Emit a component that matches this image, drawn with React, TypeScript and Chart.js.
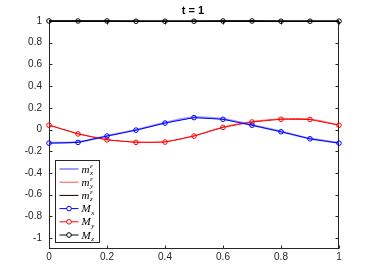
import React, { useEffect, useRef } from 'react';
import { Chart, registerables } from 'chart.js';
Chart.register(...registerables);

const xs = [0, 0.1, 0.2, 0.3, 0.4, 0.5, 0.6, 0.7, 0.8, 0.9, 1];
const Mx = [-0.125, -0.118, -0.06, -0.005, 0.06, 0.11, 0.095, 0.04, -0.02, -0.085, -0.125];
const My = [0.04, -0.04, -0.095, -0.118, -0.115, -0.06, 0.02, 0.07, 0.095, 0.093, 0.04];
const Mz = [1, 1, 1, 0.998, 0.998, 0.998, 1, 1, 0.998, 0.998, 0.998];
const mxEps = [-0.122, -0.115, -0.058, -0.003, 0.062, 0.113, 0.097, 0.042, -0.018, -0.083, -0.122];
const myEps = [0.043, -0.037, -0.092, -0.115, -0.112, -0.057, 0.023, 0.073, 0.098, 0.096, 0.043];
const mzEps = [1, 1, 1, 1, 1, 1, 1, 1, 1, 1, 1];
const xTicks = [0, 0.2, 0.4, 0.6, 0.8, 1];
const yTicks = [-1, -0.8, -0.6, -0.4, -0.2, 0, 0.2, 0.4, 0.6, 0.8, 1];
const titleText = 't = 1';
const legendItems = [
  { base: 'm', sup: 'ε', sub: 'x', color: 'rgba(90,90,255,0.6)', width: 2, marker: false },
  { base: 'm', sup: 'ε', sub: 'y', color: '#ff5050', width: 1, marker: false },
  { base: 'm', sup: 'ε', sub: 'z', color: '#000000', width: 1, marker: false },
  { base: 'M', sup: '', sub: 'x', color: '#0000ff', width: 1, marker: true },
  { base: 'M', sup: '', sub: 'y', color: '#ff0000', width: 1, marker: true },
  { base: 'M', sup: '', sub: 'z', color: '#000000', width: 1, marker: true },
];

const AX = '#262626';
const FONT = "'Liberation Sans', Arial, Helvetica, sans-serif";

const framePlugin = {
  id: 'frame',
  beforeDatasetsDraw(chart: any) {
    const { ctx, chartArea: a, scales } = chart;
    ctx.save();
    ctx.strokeStyle = AX;
    ctx.lineWidth = 1;
    const L = Math.round(a.left) + 0.5, R = Math.round(a.right) - 0.5;
    const T = Math.round(a.top) + 0.5, B = Math.round(a.bottom) - 0.5;
    ctx.strokeRect(L, T, R - L, B - T);
    ctx.beginPath();
    const tl = 3;
    for (const v of yTicks) {
      const y = Math.round(scales.y.getPixelForValue(v)) + 0.5;
      ctx.moveTo(L, y); ctx.lineTo(L + tl, y);
      ctx.moveTo(R, y); ctx.lineTo(R - tl, y);
    }
    for (const v of xTicks) {
      const x = Math.round(scales.x.getPixelForValue(v)) + 0.5;
      ctx.moveTo(x, B); ctx.lineTo(x, B - tl);
      ctx.moveTo(x, T); ctx.lineTo(x, T + tl);
    }
    ctx.stroke();
    ctx.restore();
  },
  afterDraw(chart: any) {
    const { ctx, chartArea: a } = chart;
    ctx.save();
    // title
    ctx.fillStyle = '#000';
    ctx.font = `bold 11px ${FONT}`;
    ctx.textAlign = 'center';
    ctx.textBaseline = 'alphabetic';
    ctx.fillText(titleText, (a.left + a.right) / 2 - 1, 13.5);
    // legend
    const bx = a.left + 6.5, by = a.bottom - 88.5, bw = 44, bh = 82;
    ctx.fillStyle = '#fff';
    ctx.fillRect(bx, by, bw, bh);
    ctx.strokeStyle = AX;
    ctx.lineWidth = 1;
    ctx.strokeRect(bx, by, bw, bh);
    const rowH = 13.2;
    legendItems.forEach((it, i) => {
      const cy = by + 8.5 + i * rowH;
      ctx.strokeStyle = it.color;
      ctx.lineWidth = it.width;
      ctx.beginPath();
      ctx.moveTo(bx + 4, cy);
      ctx.lineTo(bx + 23, cy);
      ctx.stroke();
      if (it.marker) {
        ctx.lineWidth = 1;
        ctx.fillStyle = '#fff';
        ctx.beginPath();
        ctx.arc(bx + 13.5, cy, 2.3, 0, Math.PI * 2);
        ctx.fill();
        ctx.stroke();
      }
      ctx.fillStyle = '#000';
      ctx.textAlign = 'left';
      ctx.textBaseline = 'alphabetic';
      ctx.font = `italic 11px 'Liberation Serif', 'DejaVu Serif', serif`;
      const tx = bx + 26;
      ctx.fillText(it.base, tx, cy + 3.5);
      const w = ctx.measureText(it.base).width;
      ctx.font = `italic 7px 'Liberation Serif', 'DejaVu Serif', serif`;
      if (it.sup) ctx.fillText(it.sup, tx + w + 0.5, cy - 1.5);
      ctx.fillText(it.sub, tx + w + 0.5, cy + 6);
    });
    ctx.restore();
  },
};

export default function App() {
  const ref = useRef<HTMLCanvasElement>(null);
  useEffect(() => {
    if (!ref.current) return;
    Chart.defaults.font.family = FONT;
    const mk = (data: number[]) => xs.map((x, i) => ({ x, y: data[i] }));
    const chart = new Chart(ref.current, {
      type: 'line',
      data: {
        datasets: [
          { label: 'mx', data: mk(mxEps), borderColor: 'rgba(90,90,255,0.6)', borderWidth: 2, pointRadius: 0, tension: 0.35, order: 2, clip: false },
          { label: 'my', data: mk(myEps), borderColor: '#ff5050', borderWidth: 1, pointRadius: 0, tension: 0.35, order: 2, clip: false },
          { label: 'mz', data: mk(mzEps), borderColor: '#000', borderWidth: 1, pointRadius: 0, tension: 0, order: 2, clip: false },
          { label: 'Mx', data: mk(Mx), borderColor: '#0000ff', backgroundColor: 'rgba(0,0,0,0)', borderWidth: 1, pointRadius: 2.3, pointBorderWidth: 1, pointBorderColor: '#0000ff', pointBackgroundColor: 'rgba(0,0,0,0)', order: 1, clip: false },
          { label: 'My', data: mk(My), borderColor: '#ff0000', backgroundColor: 'rgba(0,0,0,0)', borderWidth: 1, pointRadius: 2.3, pointBorderWidth: 1, pointBorderColor: '#ff0000', pointBackgroundColor: 'rgba(0,0,0,0)', order: 1, clip: false },
          { label: 'Mz', data: mk(Mz), borderColor: '#000', backgroundColor: 'rgba(0,0,0,0)', borderWidth: 1.5, pointRadius: 2.3, pointBorderWidth: 1, pointBorderColor: '#000', pointBackgroundColor: 'rgba(0,0,0,0)', order: 1, clip: false },
        ] as any,
      },
      options: {
        responsive: false,
        animation: false,
        layout: { padding: { left: 0, right: 35, top: 21, bottom: 0 } },
        plugins: { legend: { display: false }, tooltip: { enabled: false }, title: { display: false } },
        scales: {
          x: {
            type: 'linear', min: 0, max: 1,
            grid: { display: false, drawTicks: false },
            border: { display: false },
            afterBuildTicks: (s: any) => { s.ticks = xTicks.map((v) => ({ value: v })); },
            afterFit: (s: any) => { s.height = 31; },
            ticks: { color: AX, font: { size: 10 }, padding: 2, maxRotation: 0, callback: (v: any) => String(Math.round(v * 10) / 10) },
          },
          y: {
            type: 'linear', min: -1.1, max: 1,
            grid: { display: false, drawTicks: false },
            border: { display: false },
            afterBuildTicks: (s: any) => { s.ticks = yTicks.map((v) => ({ value: v })); },
            afterFit: (s: any) => { s.width = 49; },
            ticks: { color: AX, font: { size: 10 }, padding: 7, callback: (v: any) => String(Math.round(v * 10) / 10) },
          },
        } as any,
      },
      plugins: [framePlugin],
    });
    return () => chart.destroy();
  }, []);
  return (
    <div style={{ position: 'absolute', left: 0, top: 0, width: 374, height: 280, background: '#fff' }}>
      <canvas ref={ref} width={374} height={280} style={{ width: 374, height: 280, display: 'block' }} />
    </div>
  );
}
